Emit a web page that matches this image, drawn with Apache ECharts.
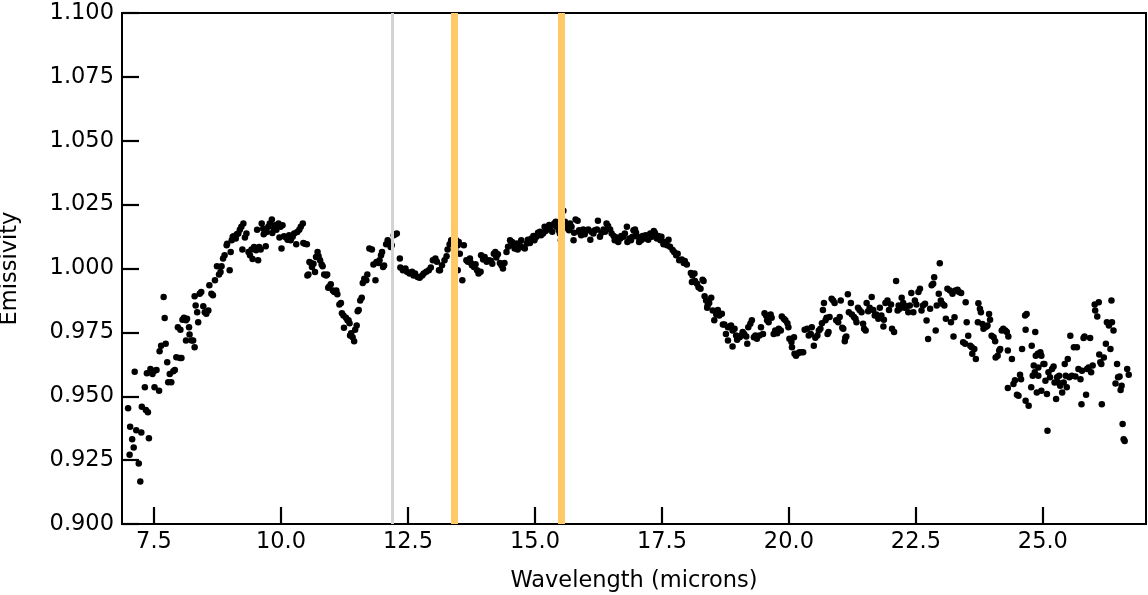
<!DOCTYPE html>
<html>
<head>
<meta charset="utf-8">
<script src="https://cdn.jsdelivr.net/npm/echarts@6/dist/echarts.min.js"></script>
<style>
html,body{margin:0;padding:0;background:#fff;}
#chart{width:1148px;height:595px;}
</style>
</head>
<body>
<div id="chart"></div>
<script>
// Tick labels
const xTicks = [7.5, 10.0, 12.5, 15.0, 17.5, 20.0, 22.5, 25.0];
const xRange = [6.87, 27.03];
const yRange = [0.9, 1.1];
// Reference wavelengths (vertical lines)
const refLines = [12.20, 13.41, 15.51];

// Emissivity spectrum [wavelength (microns), emissivity]
const seg7to12 = [
[6.99,0.9453],[7.03,0.9381],[7.07,0.9332],[7.10,0.9299],[7.02,0.9271],[7.12,0.9596],[7.15,0.9367],[7.20,0.9237],[7.23,0.9166],[7.25,0.9358],
[7.26,0.9459],[7.32,0.9535],[7.34,0.9446],[7.38,0.9437],[7.40,0.9336],[7.36,0.9590],[7.43,0.9607],[7.47,0.9587],[7.51,0.9600],[7.55,0.9603],
[7.51,0.9535],[7.60,0.9522],[7.61,0.9676],[7.64,0.9698],[7.69,0.9888],[7.71,0.9806],[7.73,0.9705],[7.76,0.9633],[7.78,0.9555],[7.81,0.9587],
[7.84,0.9555],[7.88,0.9598],[7.91,0.9603],[7.94,0.9653],[8.01,0.9650],[8.04,0.9650],[7.97,0.9770],[8.02,0.9760],[8.06,0.9799],[8.09,0.9807],
[8.13,0.9797],[8.15,0.9803],[8.19,0.9770],[8.20,0.9742],[8.24,0.9718],[8.30,0.9692],[8.27,0.9718],[8.13,0.9718],[8.30,0.9891],[8.32,0.9855],
[8.35,0.9829],[8.37,0.9790],[8.40,0.9901],[8.43,0.9908],[8.47,0.9852],[8.50,0.9829],[8.53,0.9823],[8.57,0.9836],[8.59,0.9934],[8.63,0.9901],
[8.66,0.9895],[8.70,0.9954],[8.74,1.0009],[8.78,0.9977],[8.81,0.9986],[8.83,1.0009],[8.86,1.0039],[8.89,1.0052],[8.93,1.0091],[8.94,1.0097],
[8.99,0.9993],[9.01,1.0065],[9.03,1.0111],[9.05,1.0124],[9.07,1.0126],[9.11,1.0117],[9.13,1.0134],[9.16,1.0137],[9.19,1.0152],[9.22,1.0163],
[9.26,1.0176],[9.29,1.0121],[9.24,1.0074],[9.32,1.0137],[9.36,1.0065],[9.39,1.0052],[9.42,1.0074],[9.44,1.0037],[9.47,1.0084],[9.51,1.0071],
[9.53,1.0152],[9.55,1.0032],[9.57,1.0084],[9.60,1.0074],[9.62,1.0176],[9.65,1.0156],[9.66,1.0134],[9.70,1.0087],[9.72,1.0143],[9.75,1.0163],
[9.78,1.0176],[9.82,1.0192],[9.83,1.0139],[9.86,1.0156],[9.88,1.0169],[9.91,1.0152],[9.95,1.0176],[9.97,1.0121],[9.99,1.0163],[10.01,1.0078],
[10.03,1.0169],[10.06,1.0126],[10.10,1.0121],[10.13,1.0113],[10.16,1.0130],[10.19,1.0111],[10.23,1.0124],[10.26,1.0137],[10.30,1.0095],[10.32,1.0143],
[10.36,1.0152],[10.39,1.0163],[10.43,1.0176],[10.44,1.0100],[10.47,1.0097],[10.51,1.0095],[10.52,0.9973],[10.54,0.9977],[10.56,1.0025],[10.59,1.0022],
[10.61,1.0006],[10.64,1.0019],[10.67,0.9986],[10.69,1.0045],[10.72,1.0065],[10.74,1.0048],[10.77,1.0032],[10.80,1.0016],[10.82,1.0009],[10.85,0.9977],
[10.89,0.9973],[10.91,0.9977],[10.93,0.9925],[10.95,0.9930],[10.98,0.9938],[11.02,0.9914],[11.05,0.9908],[11.09,0.9914],[11.11,0.9899],[11.15,0.9859],
[11.18,0.9865],[11.20,0.9825],[11.23,0.9816],[11.24,0.9768],[11.28,0.9807],[11.31,0.9797],[11.33,0.9797],[11.35,0.9786],[11.36,0.9738],[11.38,0.9747],
[11.41,0.9731],[11.44,0.9715],[11.46,0.9760],[11.49,0.9777],[11.51,0.9833],[11.53,0.9838],[11.56,0.9875],[11.59,0.9886],[11.61,0.9943],[11.64,0.9960],
[11.68,0.9954],[11.70,0.9977],[11.74,1.0078],[11.79,1.0074],[11.82,1.0016],[11.86,0.9954],[11.88,1.0025],[11.92,1.0022],[11.94,1.0032],[11.97,1.0052],
[11.99,1.0065],[12.01,1.0006],[12.03,1.0012],[12.07,1.0095],[12.10,1.0111],[12.14,1.0100],[12.16,1.0084],[12.18,1.0091],[12.22,1.0130],[12.25,1.0134],
[12.28,1.0137]
];
const seg12to18 = [
[12.34,1.0039],[12.35,1.0004],[12.40,0.9993],[12.45,1.0000],[12.48,0.9987],[12.53,0.9980],[12.58,0.9987],[12.61,0.9973],[12.64,0.9980],[12.69,0.9967],
[12.73,0.9964],[12.78,0.9973],[12.81,0.9980],[12.86,0.9987],[12.91,0.9993],[12.95,1.0004],[12.99,1.0032],[13.04,1.0039],[13.07,1.0026],[13.11,0.9993],
[13.13,0.9993],[13.17,1.0013],[13.22,1.0032],[13.26,1.0048],[13.28,1.0074],[13.32,1.0095],[13.35,1.0111],[13.39,1.0098],[13.41,1.0144],[13.43,1.0072],
[13.45,1.0111],[13.48,1.0091],[13.50,1.0104],[13.52,1.0058],[13.43,1.0000],[13.48,0.9993],[13.57,0.9954],[13.60,1.0091],[13.65,1.0032],[13.68,1.0026],
[13.72,1.0039],[13.74,1.0022],[13.76,1.0013],[13.80,1.0006],[13.83,1.0017],[13.86,0.9993],[13.89,0.9980],[13.93,0.9987],[13.94,1.0052],[13.98,1.0035],
[14.01,1.0045],[14.05,1.0026],[14.09,1.0032],[14.13,1.0030],[14.16,1.0019],[14.19,1.0058],[14.22,1.0065],[14.24,1.0043],[14.27,1.0056],[14.31,1.0022],
[14.34,1.0013],[14.37,1.0000],[14.40,1.0022],[14.44,1.0065],[14.47,1.0085],[14.51,1.0111],[14.53,1.0091],[14.55,1.0104],[14.59,1.0095],[14.60,1.0078],
[14.64,1.0098],[14.66,1.0074],[14.70,1.0091],[14.73,1.0111],[14.77,1.0082],[14.80,1.0078],[14.84,1.0098],[14.86,1.0113],[14.90,1.0100],[14.93,1.0117],
[14.97,1.0127],[14.99,1.0111],[15.03,1.0124],[15.06,1.0140],[15.10,1.0144],[15.12,1.0130],[15.16,1.0137],[15.19,1.0163],[15.21,1.0147],[15.24,1.0153],
[15.28,1.0170],[15.32,1.0166],[15.34,1.0144],[15.38,1.0176],[15.41,1.0183],[15.43,1.0163],[15.47,1.0150],[15.49,1.0137],[15.51,1.0111],[15.52,1.0072],
[15.56,1.0226],[15.54,1.0153],[15.59,1.0183],[15.60,1.0161],[15.64,1.0166],[15.67,1.0150],[15.69,1.0176],[15.72,1.0163],[15.76,1.0111],[15.77,1.0140],
[15.80,1.0192],[15.84,1.0187],[15.87,1.0150],[15.89,1.0140],[15.91,1.0130],[15.95,1.0153],[15.98,1.0134],[16.02,1.0150],[16.05,1.0153],[16.09,1.0113],
[16.11,1.0144],[16.15,1.0137],[16.18,1.0150],[16.22,1.0153],[16.24,1.0187],[16.28,1.0124],[16.31,1.0140],[16.35,1.0153],[16.38,1.0144],[16.41,1.0176],
[16.44,1.0166],[16.48,1.0153],[16.51,1.0137],[16.55,1.0127],[16.57,1.0111],[16.61,1.0121],[16.64,1.0104],[16.68,1.0117],[16.70,1.0127],[16.74,1.0124],
[16.77,1.0137],[16.81,1.0163],[16.82,1.0104],[16.86,1.0117],[16.89,1.0111],[16.92,1.0124],[16.94,1.0150],[16.97,1.0153],[16.99,1.0140],[17.02,1.0124],
[17.05,1.0104],[17.09,1.0111],[17.12,1.0127],[17.15,1.0117],[17.18,1.0130],[17.23,1.0113],[17.27,1.0137],[17.30,1.0124],[17.34,1.0147],[17.36,1.0140],
[17.40,1.0117],[17.43,1.0127],[17.47,1.0111],[17.49,1.0124],[17.53,1.0095],[17.56,1.0104],[17.60,1.0091],[17.63,1.0113],[17.66,1.0085],[17.71,1.0072],
[17.74,1.0065],[17.78,1.0052],[17.81,1.0058],[17.84,1.0032]
];
const seg18to22 = [
[17.89,1.0035],[17.93,1.0022],[17.95,1.0029],[17.99,1.0016],[18.07,0.9982],[18.10,0.9973],[18.14,0.9980],[18.09,0.9947],[18.15,0.9951],[18.19,0.9940],
[18.22,0.9927],[18.26,0.9921],[18.30,0.9956],[18.32,0.9951],[18.34,0.9891],[18.37,0.9875],[18.40,0.9855],[18.43,0.9865],[18.47,0.9886],[18.39,0.9846],
[18.50,0.9836],[18.53,0.9797],[18.57,0.9820],[18.60,0.9838],[18.63,0.9816],[18.68,0.9823],[18.70,0.9781],[18.73,0.9781],[18.76,0.9744],[18.80,0.9770],
[18.83,0.9773],[18.86,0.9777],[18.89,0.9757],[18.93,0.9764],[18.96,0.9738],[18.98,0.9721],[18.80,0.9718],[18.89,0.9695],[19.03,0.9731],[19.06,0.9738],
[19.09,0.9751],[19.12,0.9744],[19.16,0.9734],[19.18,0.9705],[19.20,0.9770],[19.24,0.9784],[19.27,0.9797],[19.31,0.9731],[19.34,0.9738],[19.37,0.9725],
[19.42,0.9738],[19.45,0.9770],[19.49,0.9744],[19.52,0.9825],[19.55,0.9816],[19.57,0.9797],[19.60,0.9790],[19.64,0.9820],[19.66,0.9807],[19.70,0.9744],
[19.73,0.9757],[19.77,0.9747],[19.80,0.9764],[19.84,0.9757],[19.86,0.9812],[19.90,0.9803],[19.93,0.9797],[19.97,0.9786],[19.99,0.9770],[20.01,0.9725],
[20.05,0.9712],[20.06,0.9692],[20.10,0.9731],[20.11,0.9666],[20.14,0.9659],[20.18,0.9668],[20.21,0.9672],[20.24,0.9672],[20.28,0.9672],[20.31,0.9760],
[20.36,0.9764],[20.39,0.9738],[20.43,0.9744],[20.45,0.9770],[20.49,0.9698],[20.52,0.9729],[20.56,0.9738],[20.59,0.9757],[20.62,0.9764],[20.65,0.9786],
[20.67,0.9838],[20.69,0.9865],[20.72,0.9797],[20.74,0.9807],[20.76,0.9744],[20.78,0.9751],[20.80,0.9810],[20.84,0.9882],[20.87,0.9875],[20.90,0.9865],
[20.93,0.9797],[20.97,0.9790],[21.00,0.9810],[21.02,0.9875],[21.05,0.9768],[21.07,0.9764],[21.10,0.9715],[21.11,0.9729],[21.13,0.9734],[21.16,0.9899],
[21.18,0.9829],[21.22,0.9865],[21.24,0.9820],[21.28,0.9810],[21.31,0.9803],[21.33,0.9790],[21.36,0.9846],[21.39,0.9838],[21.43,0.9829],[21.46,0.9784],
[21.48,0.9764],[21.51,0.9757],[21.53,0.9865],[21.56,0.9833],[21.59,0.9846],[21.63,0.9888],[21.66,0.9838],[21.69,0.9816],[21.72,0.9820],[21.76,0.9803],
[21.79,0.9846],[21.82,0.9816],[21.86,0.9773],[21.87,0.9799],[21.90,0.9865],[21.94,0.9875],[21.97,0.9838],[22.01,0.9859],[22.03,0.9764],[22.07,0.9751],
[22.11,0.9951],[22.14,0.9836],[22.16,0.9855],[22.18,0.9842],[22.22,0.9886],[22.25,0.9865],[22.28,0.9846],[22.32,0.9852],[22.35,0.9829],[22.38,0.9855],
[22.41,0.9904],[22.45,0.9829],[22.48,0.9875],[22.51,0.9859],[22.55,0.9908],[22.58,0.9921]
];
const seg22to27 = [
[22.61,0.9836],[22.64,0.9855],[22.68,0.9862],[22.71,0.9796],[22.74,0.9724],[22.78,0.9842],[22.81,0.9934],[22.84,0.9940],[22.86,0.9966],[22.89,0.9757],
[22.91,0.9855],[22.95,0.9901],[22.97,1.0021],[22.99,0.9875],[23.02,0.9862],[23.06,0.9855],[23.09,0.9803],[23.12,0.9921],[23.17,0.9914],[23.19,0.9790],
[23.22,0.9901],[23.24,0.9734],[23.26,0.9809],[23.28,0.9914],[23.32,0.9917],[23.35,0.9908],[23.39,0.9904],[23.43,0.9711],[23.47,0.9705],[23.48,0.9868],
[23.50,0.9790],[23.53,0.9737],[23.57,0.9698],[23.60,0.9692],[23.61,0.9666],[23.65,0.9685],[23.68,0.9646],[23.72,0.9790],[23.73,0.9864],[23.76,0.9842],
[23.78,0.9829],[23.81,0.9783],[23.83,0.9764],[23.86,0.9770],[23.89,0.9773],[23.91,0.9777],[23.94,0.9822],[23.96,0.9799],[23.99,0.9737],[24.03,0.9731],
[24.06,0.9715],[24.07,0.9652],[24.11,0.9659],[24.14,0.9679],[24.16,0.9685],[24.19,0.9757],[24.22,0.9764],[24.26,0.9757],[24.29,0.9751],[24.32,0.9734],
[24.31,0.9679],[24.39,0.9646],[24.59,0.9685],[24.65,0.9816],[24.66,0.9760],[24.68,0.9822],[24.78,0.9698],[24.82,0.9620],[24.85,0.9751],[24.86,0.9659],
[24.90,0.9666],[24.91,0.9580],[24.95,0.9672],[24.97,0.9659],[25.01,0.9626],[25.03,0.9626],[24.31,0.9532],[24.42,0.9548],[24.45,0.9563],[24.49,0.9506],
[24.52,0.9502],[24.55,0.9584],[24.57,0.9567],[24.66,0.9482],[24.72,0.9463],[24.77,0.9535],[24.80,0.9580],[24.84,0.9594],[24.88,0.9515],[24.91,0.9613],
[24.97,0.9522],[25.05,0.9561],[25.08,0.9509],[25.09,0.9365],[25.11,0.9594],[25.14,0.9574],[25.18,0.9607],[25.21,0.9616],[25.23,0.9554],[25.26,0.9489],
[25.28,0.9574],[25.30,0.9554],[25.32,0.9580],[25.34,0.9541],[25.38,0.9515],[25.41,0.9554],[25.43,0.9626],[25.45,0.9580],[25.47,0.9535],[25.49,0.9646],
[25.52,0.9574],[25.54,0.9737],[25.57,0.9580],[25.61,0.9692],[25.64,0.9577],[25.67,0.9692],[25.70,0.9607],[25.74,0.9567],[25.76,0.9469],[25.77,0.9600],
[25.80,0.9728],[25.82,0.9734],[25.85,0.9506],[25.87,0.9607],[25.90,0.9613],[25.93,0.9728],[25.95,0.9594],[25.98,0.9620],[26.02,0.9859],[26.03,0.9836],
[26.07,0.9812],[26.10,0.9868],[26.11,0.9663],[26.13,0.9633],[26.15,0.9626],[26.16,0.9469],[26.20,0.9652],[26.24,0.9705],[26.26,0.9790],[26.30,0.9777],
[26.33,0.9685],[26.35,0.9875],[26.36,0.9790],[26.39,0.9757],[26.43,0.9550],[26.46,0.9626],[26.48,0.9574],[26.51,0.9577],[26.53,0.9524],[26.55,0.9541],
[26.57,0.9391],[26.59,0.9332],[26.61,0.9325],[26.66,0.9607],[26.69,0.9584]
];

const points = seg7to12.concat(seg12to18, seg18to22, seg22to27);
const lineColors = ['#d3d3d3', '#ffc966', '#ffc966'];
const lineWidths = [3, 7, 7];

const FONT = 'DejaVu Sans';
const FS = 22.5;
const chart = echarts.init(document.getElementById('chart'), null, {renderer: 'canvas'});
chart.setOption({
  animation: false,
  backgroundColor: '#ffffff',
  grid: {left: 122, right: 2, top: 13, bottom: 71, containLabel: false, outerBoundsMode: 'none',
         show: true, borderColor: '#000', borderWidth: 2, backgroundColor: 'transparent'},
  xAxis: {
    type: 'value', min: xRange[0], max: xRange[1],
    name: 'Wavelength (microns)', nameLocation: 'middle', nameGap: 46,
    nameTextStyle: {fontFamily: FONT, fontSize: FS, color: '#000'},
    axisLine: {show: true, onZero: false, lineStyle: {color: '#000', width: 2}},
    axisTick: {show: true, inside: true, length: 17, lineStyle: {color: '#000', width: 2.2}, customValues: xTicks},
    axisLabel: {show: true, fontFamily: FONT, fontSize: FS, color: '#000', margin: 7, customValues: xTicks, formatter: v => v.toFixed(1)},
    splitLine: {show: false}
  },
  yAxis: {
    type: 'value', min: yRange[0], max: yRange[1], interval: 0.025,
    name: 'Emissivity', nameLocation: 'middle', nameGap: 100,
    nameTextStyle: {fontFamily: FONT, fontSize: FS, color: '#000'},
    axisLine: {show: true, onZero: false, lineStyle: {color: '#000', width: 2}},
    axisTick: {show: true, inside: true, length: 17, lineStyle: {color: '#000', width: 2.2}},
    axisLabel: {show: true, fontFamily: FONT, fontSize: FS, color: '#000', margin: 8, formatter: v => v.toFixed(3)},
    splitLine: {show: false}
  },
  series: [
    {
      type: 'scatter', data: [], z: 1, silent: true,
      markLine: {
        silent: true, symbol: ['none', 'none'], label: {show: false}, animation: false,
        data: refLines.map((x, i) => ({xAxis: x, lineStyle: {color: lineColors[i], width: lineWidths[i], type: 'solid'}}))
      }
    },
    {
      type: 'scatter', data: points, z: 3, silent: true,
      symbol: 'circle', symbolSize: 6.5,
      itemStyle: {color: '#000', opacity: 1}
    }
  ]
});
</script>
</body>
</html>
